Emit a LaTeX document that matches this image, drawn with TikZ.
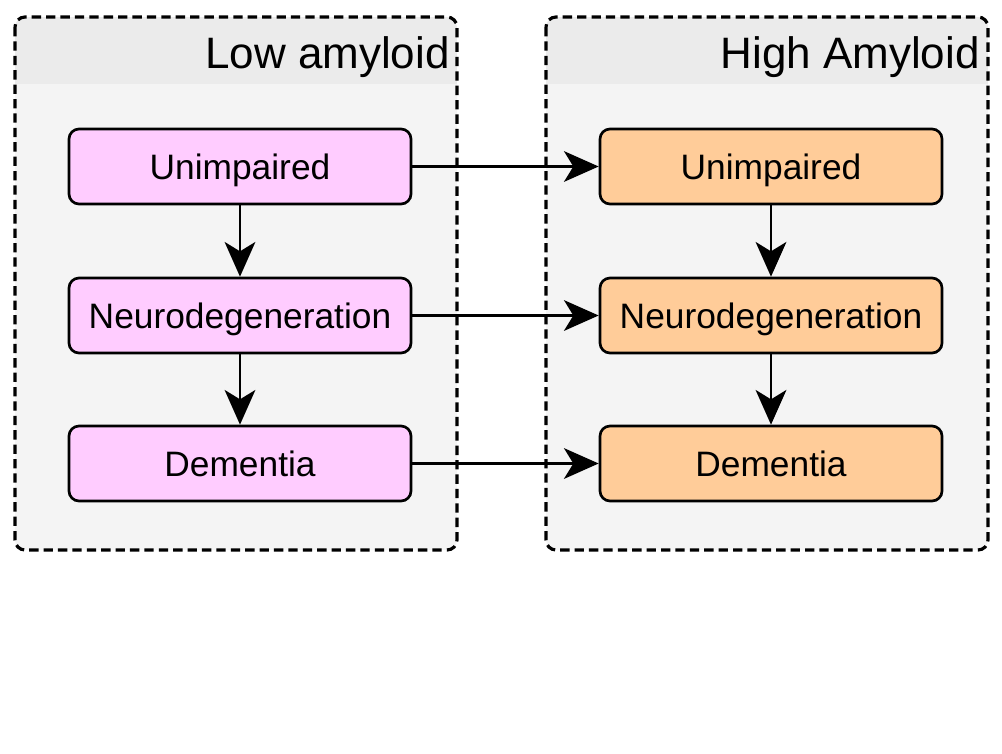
\documentclass[tikz,border=0pt]{standalone}
\usepackage{fontspec}
\setmainfont{Liberation Sans}
\usetikzlibrary{arrows.meta}
\definecolor{hdr}{HTML}{EBEBEB}
\definecolor{bodyc}{HTML}{F4F4F4}
\definecolor{pinkc}{HTML}{FFCCFF}
\definecolor{orangec}{HTML}{FFCC99}
\tikzset{
  stagebox/.style={draw=black, line width=2pt, rounded corners=7.5pt, minimum width=256.5pt, minimum height=56.25pt, inner sep=0pt, text height=18.8pt, text depth=0pt, font=\fontsize{26.5pt}{30pt}\selectfont},
  lowbox/.style={stagebox, fill=pinkc},
  highbox/.style={stagebox, fill=orangec},
  conn/.style={line width=2pt, -{Stealth[length=26pt,width=23pt,inset=7pt]}},
  frame/.style={draw=black, line width=2.4pt, dash pattern=on 7pt off 3.8pt, rounded corners=7.5pt},
  hdrtext/.style={font=\fontsize{33pt}{38pt}\selectfont, anchor=base east, inner sep=0pt}
}
\begin{document}
\begin{tikzpicture}[x=0.75pt,y=-0.75pt]
\useasboundingbox (0,0) rectangle (1002,753);
% containers
\foreach \xa/\xb in {15/457, 546/988}{
  \fill[bodyc, rounded corners=7.5pt] (\xa,17) rectangle (\xb,550);
  \begin{scope}
    \clip[rounded corners=7.5pt] (\xa,17) rectangle (\xb,550);
    \fill[hdr] (\xa,17) rectangle (\xb,84);
  \end{scope}
  \draw[frame] (\xa,17) rectangle (\xb,550);
}
\node[hdrtext] (lowt) at (450,68) {Low amyloid};
\node[hdrtext] (hight) at (980,68) {High Amyloid};
% boxes
\node[lowbox] (lu) at (240,166.5) {Unimpaired};
\node[lowbox] (ln) at (240,315.5) {Neurodegeneration};
\node[lowbox] (ld) at (240,463.5) {Dementia};
\node[highbox] (hu) at (771,166.5) {Unimpaired};
\node[highbox] (hn) at (771,315.5) {Neurodegeneration};
\node[highbox] (hd) at (771,463.5) {Dementia};
% connectors
\draw[conn] (lu) -- (ln);
\draw[conn] (ln) -- (ld);
\draw[conn] (hu) -- (hn);
\draw[conn] (hn) -- (hd);
\draw[conn] (lu) -- (hu);
\draw[conn] (ln) -- (hn);
\draw[conn] (ld) -- (hd);
\end{tikzpicture}
\end{document}
